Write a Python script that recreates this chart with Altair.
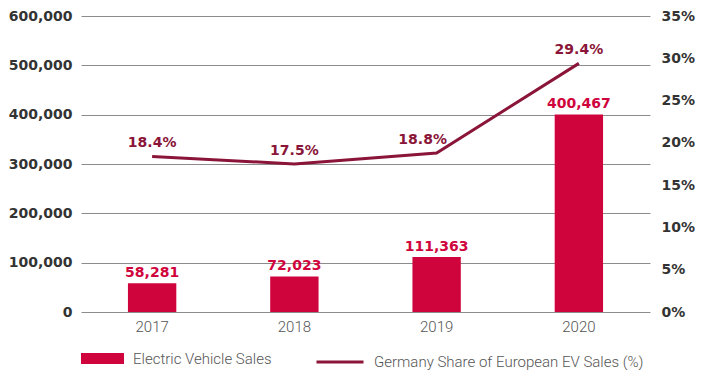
import altair as alt
import pandas as pd

years = ["2017", "2018", "2019", "2020"]
ev_sales = [58281, 72023, 111363, 400467]
de_share = [18.4, 17.5, 18.8, 29.4]
bar_series = ["Electric Vehicle Sales"] * 4
line_series = ["Germany Share of European EV Sales (%)"] * 4

df = pd.DataFrame({
    "year": years,
    "sales": ev_sales,
    "share": de_share,
    "bar_series": bar_series,
    "line_series": line_series,
})

BAR = "#D0043C"
LINE = "#8A1538"
BOLD_FONT = "DejaVu Sans"
LIGHT_FONT = "Roboto"

x = alt.X("year:N", title=None,
          scale=alt.Scale(paddingInner=0.66, paddingOuter=0.33),
          axis=alt.Axis(labelAngle=0, domain=False, ticks=False, labelPadding=7,
                        labelFont=LIGHT_FONT, labelFontWeight=300, labelFontSize=15,
                        labelColor="#555555"))

base = alt.Chart(df)

y_left = alt.Y("sales:Q", title=None,
               scale=alt.Scale(domain=[0, 600000], nice=False),
               axis=alt.Axis(values=[0, 100000, 200000, 300000, 400000, 500000, 600000],
                             format=",.0f", domain=False, ticks=False, labelPadding=9,
                             grid=True, gridColor="#8c8c8c", gridWidth=1, gridOpacity=1,
                             labelFont=BOLD_FONT, labelFontWeight="bold", labelFontSize=14,
                             labelColor="#333333"))

legend_common = dict(orient="none", padding=0, labelLimit=0,
                     labelFont=LIGHT_FONT, labelFontWeight=300,
                     labelFontSize=15, labelColor="#555555")

bars = base.mark_bar(color=BAR).encode(
    x=x,
    y=y_left,
    fill=alt.Fill("bar_series:N", title=None,
                  scale=alt.Scale(domain=["Electric Vehicle Sales"], range=[BAR]),
                  legend=alt.Legend(legendX=0, legendY=321,
                                    symbolType="M-1,-0.256H1V0.256H-1Z", symbolSize=1849,
                                    symbolStrokeWidth=0, labelOffset=9, **legend_common)),
)

bar_text = base.mark_text(font=BOLD_FONT, fontWeight="bold", fontSize=14,
                          color=BAR, baseline="alphabetic", dy=-6).encode(
    x=x,
    y=y_left,
    text=alt.Text("sales:Q", format=","),
)

left = alt.layer(bars, bar_text)

yr = alt.Y("share:Q", title=None,
           scale=alt.Scale(domain=[0, 35], nice=False),
           axis=alt.Axis(orient="right", values=[0, 5, 10, 15, 20, 25, 30, 35],
                         labelExpr="datum.value + '%'", domain=False, ticks=False,
                         grid=False, labelPadding=11,
                         labelFont=BOLD_FONT, labelFontWeight="bold", labelFontSize=14,
                         labelColor="#333333"))

line = base.mark_line(strokeWidth=3).encode(
    x=x,
    y=yr,
    stroke=alt.Stroke("line_series:N", title=None,
                      scale=alt.Scale(domain=["Germany Share of European EV Sales (%)"],
                                      range=[LINE]),
                      legend=alt.Legend(legendX=234, legendY=321,
                                        symbolType="stroke", symbolSize=2209,
                                        symbolStrokeWidth=3, labelOffset=9,
                                        **legend_common)),
)

line_text = base.mark_text(font=BOLD_FONT, fontWeight="bold", fontSize=14,
                           color=LINE, baseline="alphabetic", dy=-9).transform_calculate(
    lbl="format(datum.share, '.1f') + '%'"
).transform_filter("datum.year != '2019'").encode(
    x=x,
    y=yr,
    text="lbl:N",
)

line_text_2019 = base.mark_text(font=BOLD_FONT, fontWeight="bold", fontSize=14,
                                color=LINE, baseline="alphabetic", dy=-9,
                                dx=-14).transform_calculate(
    lbl="format(datum.share, '.1f') + '%'"
).transform_filter("datum.year == '2019'").encode(
    x=x,
    y=yr,
    text="lbl:N",
)

right = alt.layer(line, line_text, line_text_2019)

chart = alt.layer(left, right).resolve_scale(
    y="independent", fill="independent", stroke="independent"
).properties(
    width=569, height=296,
    autosize=alt.AutoSizeParams(type="none"),
    padding={"left": 73, "top": 8, "right": 45, "bottom": 58},
    background="white",
).configure_view(stroke=None)

chart.save("out.html", embed_options={"renderer": "svg", "actions": False})
